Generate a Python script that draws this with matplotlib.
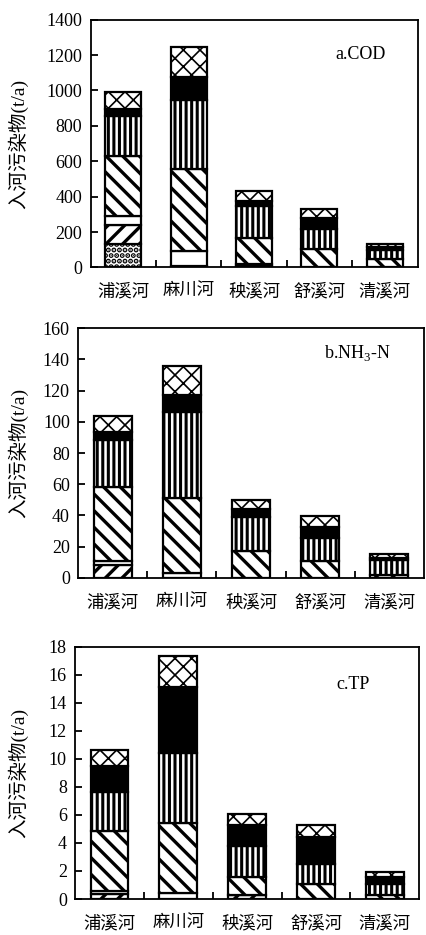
import numpy as np
import matplotlib
matplotlib.use("Agg")
import matplotlib.pyplot as plt

plt.rcParams['font.family'] = ['Liberation Serif', 'Noto Sans CJK SC']
plt.rcParams['mathtext.fontset'] = 'custom'
plt.rcParams['mathtext.rm'] = 'Liberation Serif'
plt.rcParams['hatch.linewidth'] = 2.4
plt.rcParams['axes.linewidth'] = 1.3

rivers = ['浦溪河', '麻川河', '秧溪河', '舒溪河', '清溪河']

# stacked layers, bottom to top (t/a)
cod_dots = [130, 8, 5, 0, 0]
cod_fwd = [110, 0, 5, 0, 0]
cod_white = [50, 85, 10, 0, 0]
cod_back = [340, 465, 145, 105, 45]
cod_vert = [225, 390, 180, 110, 55]
cod_black = [40, 130, 30, 65, 15]
cod_cross = [95, 165, 55, 50, 15]

nh_dots = [0, 0, 0, 0, 0]
nh_fwd = [8.5, 0, 0, 0, 0]
nh_white = [2, 3, 0, 0, 0]
nh_back = [47.5, 48, 17, 11, 2]
nh_vert = [30.5, 55, 22, 14.5, 9.5]
nh_black = [5, 11, 5, 7, 1]
nh_cross = [10, 19, 6, 7, 2.5]

tp_dots = [0, 0, 0, 0, 0]
tp_fwd = [0.35, 0, 0.3, 0, 0]
tp_white = [0.2, 0.45, 0, 0, 0]
tp_back = [4.3, 5.0, 1.3, 1.1, 0.3]
tp_vert = [2.75, 4.95, 2.15, 1.4, 0.8]
tp_black = [1.85, 4.7, 1.55, 1.95, 0.5]
tp_cross = [1.15, 2.2, 0.75, 0.8, 0.35]

# (facecolor, hatch, hatch linewidth) per layer
styles = [('white', '...', 2.6), ('white', '//', 2.4), ('white', '', 1.0),
          ('white', '\\\\', 2.4), ('white', '|||', 2.2), ('black', '', 1.0),
          ('white', 'xx', 1.2)]

panels = [
    ([cod_dots, cod_fwd, cod_white, cod_back, cod_vert, cod_black, cod_cross],
     1400, 200, 'a.COD', [0.212, 0.714, 0.766, 0.265], (0.75, 0.84)),
    ([nh_dots, nh_fwd, nh_white, nh_back, nh_vert, nh_black, nh_cross],
     160, 20, 'b.NH$_3$-N', [0.183, 0.382, 0.810, 0.267], (0.71, 0.88)),
    ([tp_dots, tp_fwd, tp_white, tp_back, tp_vert, tp_black, tp_cross],
     18, 2, 'c.TP', [0.176, 0.0385, 0.806, 0.270], (0.76, 0.83)),
]

fig = plt.figure(figsize=(4.27, 9.35), dpi=100)
x = np.arange(len(rivers))

for layers, ymax, step, title, pos, tpos in panels:
    ax = fig.add_axes(pos)
    bottom = np.zeros(len(rivers))
    for vals, (fc, h, hlw) in zip(layers, styles):
        vals = np.array(vals, dtype=float)
        bars = ax.bar(x, vals, 0.55, bottom=bottom, color=fc, edgecolor='black',
                      hatch=h, linewidth=1.6)
        for b in bars:
            if hasattr(b, 'set_hatch_linewidth'):
                b.set_hatch_linewidth(hlw)
        bottom += vals
    ax.set_xlim(-0.5, 4.5)
    ax.set_ylim(0, ymax)
    ax.set_yticks(np.arange(0, ymax + step, step))
    ax.set_xticks(x, rivers, fontsize=12.5)
    ax.set_xticks(x[:-1] + 0.5, minor=True)
    ax.tick_params(axis='x', which='major', length=0, pad=12)
    ax.tick_params(axis='x', which='minor', direction='in', length=5, width=1.3)
    ax.tick_params(axis='y', direction='in', length=5, width=1.3, labelsize=13, pad=6)
    ax.text(tpos[0], tpos[1], title, transform=ax.transAxes, fontsize=13)
    fig.text(0.042, pos[1] + pos[3] / 2, '入河污染物(t/a)', rotation=90,
             ha='center', va='center', fontsize=14)

fig.savefig('out.png', dpi=100)
